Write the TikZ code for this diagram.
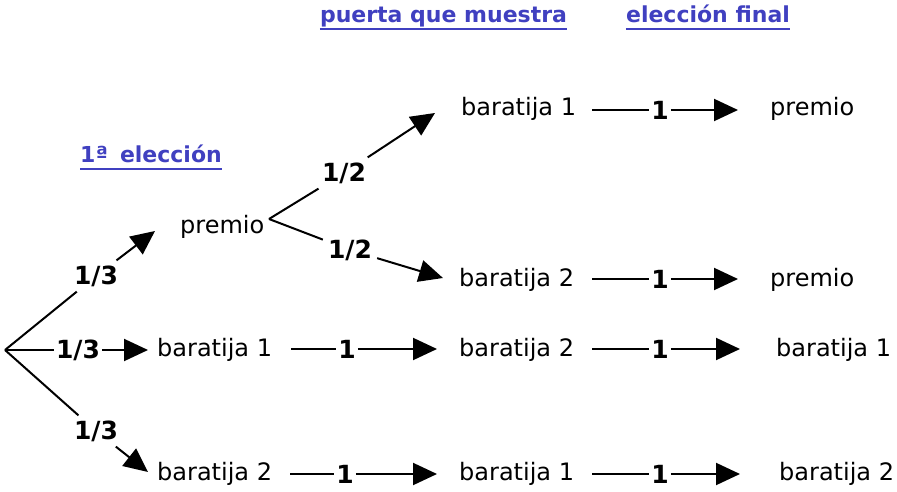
\documentclass[tikz,border=0pt]{standalone}
\usepackage{fontspec}
\setmainfont{DejaVu Sans}
\usetikzlibrary{arrows.meta}
\definecolor{hdrblue}{RGB}{64,64,192}
\begin{document}
\begin{tikzpicture}[x=1pt,y=-1pt,
  txt/.style={inner sep=0pt, anchor=base west, font=\fontsize{24}{28}\selectfont},
  hdr/.style={inner sep=0pt, anchor=base, text=hdrblue, font=\bfseries\fontsize{22}{26}\selectfont},
  ul/.style={draw=hdrblue, line width=1.6pt},
  lab/.style={inner sep=2pt, font=\bfseries\fontsize{25}{29}\selectfont},
  dlab/.style={lab, inner sep=5pt},
  con/.style={line width=2pt},
  arr/.style={con, -{Triangle[length=24pt,width=22pt]}},
]
\useasboundingbox (0,0) rectangle (897,492);
% headers
\node[hdr] (h1) at (443.5,23) {puerta que muestra};
\node[hdr] (h2) at (708,23) {elección final};
\node[hdr] (h0) at (151,163) {1ª\hspace{0.55em}elección};
\draw[ul] ([yshift=-6pt]h1.base west) -- ([yshift=-6pt]h1.base east);
\draw[ul] ([yshift=-6pt]h2.base west) -- ([yshift=-6pt]h2.base east);
\draw[ul] ([yshift=-6pt]h0.base west) -- ([yshift=-6pt]h0.base east);
% texts
\node[txt] (pr) at (180,233) {premio};
\node[txt] (a1) at (461,116) {baratija 1};
\node[txt] (a2) at (770,116) {premio};
\node[txt] (b1) at (459,286) {baratija 2};
\node[txt] (b2) at (770,286) {premio};
\node[txt] (c0) at (157,356) {baratija 1};
\node[txt] (c1) at (459,356) {baratija 2};
\node[txt] (c2) at (776,356) {baratija 1};
\node[txt] (d0) at (157,480) {baratija 2};
\node[txt] (d1) at (459,480) {baratija 1};
\node[txt] (d2) at (779,480) {baratija 2};
% first choice branches
\coordinate (root) at (5,350);
\node[dlab] (l1) at (96,276) {1/3};
\node[lab] (l2) at (78,350) {1/3};
\node[dlab] (l3) at (96,431) {1/3};
\coordinate (t1) at (155,231);
\coordinate (t2) at (148,350);
\coordinate (t3) at (148,472);
\draw[con] (root) -- (l1); \draw[arr] (l1) -- (t1);
\draw[con] (root) -- (l2); \draw[arr] (l2) -- (t2);
\draw[con] (root) -- (l3); \draw[arr] (l3) -- (t3);
% door shown after premio
\coordinate (fork) at (269,219);
\node[dlab] (m1) at (344,173) {1/2};
\node[dlab] (m2) at (350,250) {1/2};
\coordinate (t4) at (435,113);
\coordinate (t5) at (443,278);
\draw[con] (fork) -- (m1); \draw[arr] (m1) -- (t4);
\draw[con] (fork) -- (m2); \draw[arr] (m2) -- (t5);
% row arrows
\coordinate (sA) at (592,110); \node[lab] (nA) at (660,110) {1}; \coordinate (eA) at (738,110);
\coordinate (sB) at (592,279); \node[lab] (nB) at (660,279) {1}; \coordinate (eB) at (738,279);
\coordinate (sC0) at (291,349); \node[lab] (nC0) at (347,349) {1}; \coordinate (eC0) at (437,349);
\coordinate (sC1) at (592,349); \node[lab] (nC1) at (660,349) {1}; \coordinate (eC1) at (740,349);
\coordinate (sD0) at (290,474); \node[lab] (nD0) at (345,474) {1}; \coordinate (eD0) at (437,474);
\coordinate (sD1) at (592,474); \node[lab] (nD1) at (660,474) {1}; \coordinate (eD1) at (740,474);
\foreach \r in {A,B,C0,C1,D0,D1} {
  \draw[con] (s\r) -- (n\r);
  \draw[arr] (n\r) -- (e\r);
}
\end{tikzpicture}
\end{document}
